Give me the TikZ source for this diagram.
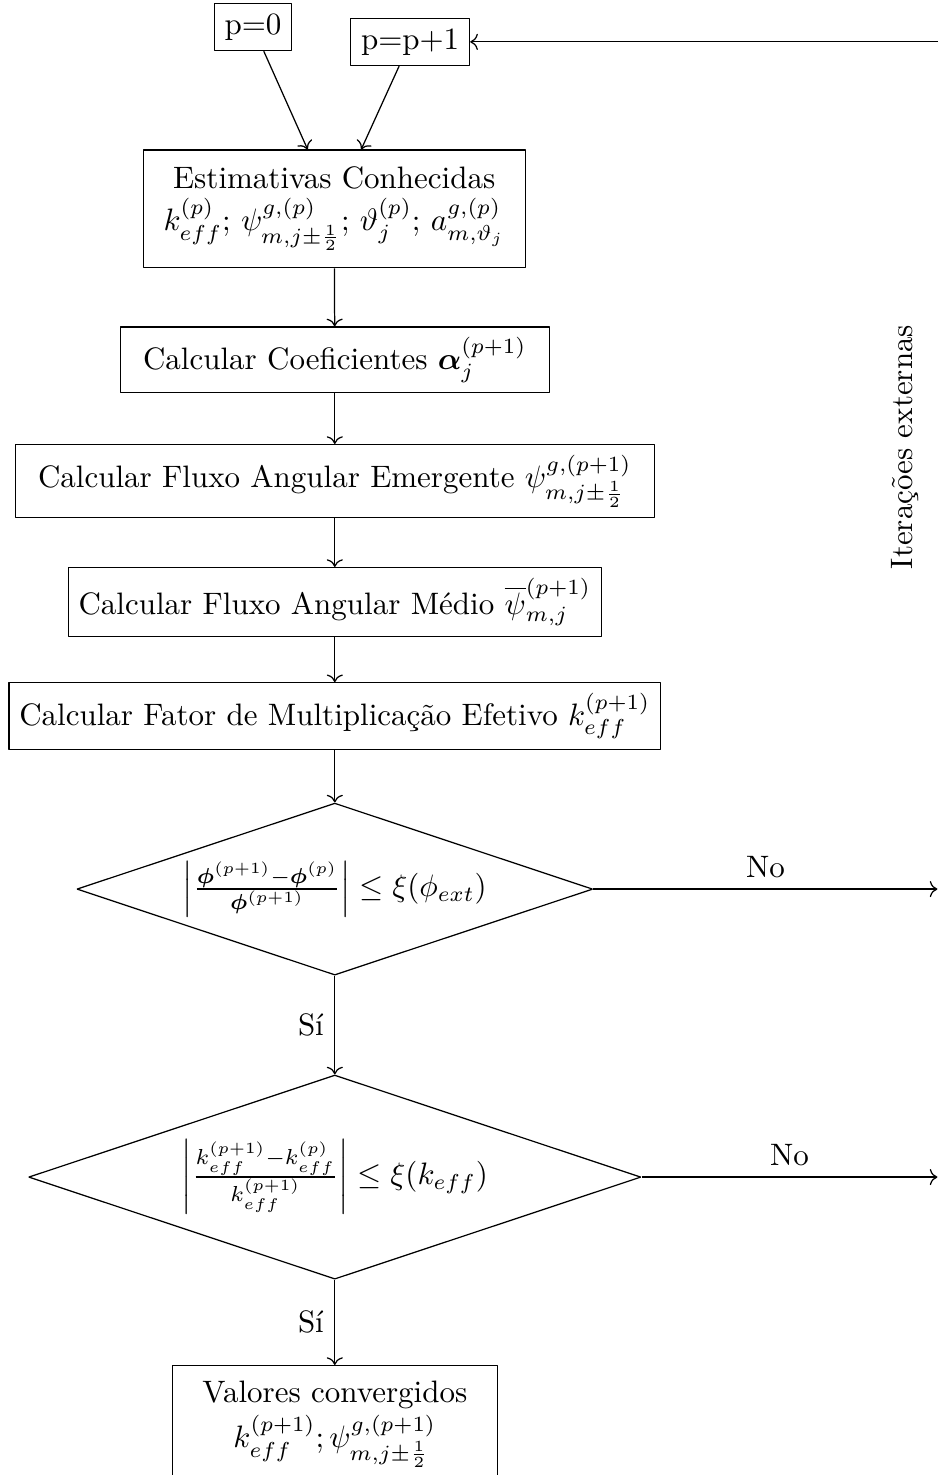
\documentclass[tikz,border=0pt]{standalone}
\usepackage{amsmath}
\usepackage{amssymb}
\usepackage{tikz}
\usetikzlibrary{arrows.meta, shapes, positioning}
\tikzset{processnode/.style={rectangle, draw=black, align=center},
wideprocessnode/.style={rectangle, draw=black, align=center, inner xsep=7.3pt},
decisionnode/.style={diamond, aspect=3, draw=black, align=center}}

\begin{document}
\begin{tikzpicture}[
                line join=bevel,
                flowarrow/.style={->}
            ]
                \useasboundingbox (0pt, 0pt) rectangle (302.6pt, -475.8pt);

                % Nodes
                \node[processnode] (start) at (81.6pt, -8.7pt) {p=0};
                \node[processnode] (next) at (132.3pt, -13.5pt) {p=p+1};
                \node[processnode, minimum width=123.2pt, minimum height=38pt] (known) at (107.8pt, -67.4pt) {Estimativas Conhecidas\\[1.5pt] $k_{eff}^{(p)};\,\psi^{g,(p)}_{m,j\pm\frac{1}{2}};\,\vartheta^{(p)}_j;\,a^{g,(p)}_{m,\vartheta_j}$};
                \node[wideprocessnode] (coef) at (108pt, -116.1pt) {Calcular Coeficientes $\boldsymbol{\alpha}_j^{(p+1)}$};
                \node[wideprocessnode] (emerg) at (108pt, -155.2pt) {Calcular Fluxo Angular Emergente $\psi^{g,(p+1)}_{m,j\pm\frac{1}{2}}$};
                \node[processnode] (mean) at (108pt, -194.2pt) {Calcular Fluxo Angular Médio $\overline{\psi}_{m,j}^{(p+1)}$};
                \node[processnode] (factor) at (108pt, -231pt) {Calcular Fator de Multiplicação Efetivo $k_{eff}^{(p+1)}$};
                \node[decisionnode, inner sep=1.8pt] (testflux) at (108pt, -286.8pt) {$\left|\frac{\boldsymbol{\phi}^{(p+1)}-\boldsymbol{\phi}^{(p)}}{\boldsymbol{\phi}^{(p+1)}}\right| \leq \xi(\phi_{ext})$};
                \node[decisionnode] (testk) at (108pt, -379.7pt) {$\left|\frac{k_{eff}^{(p+1)}-k_{eff}^{(p)}}{k_{eff}^{(p+1)}}\right| \leq \xi(k_{eff})$};
                \node[processnode, minimum width=104.8pt, minimum height=38pt] (converged) at (108pt, -459.5pt) {Valores convergidos\\[1pt] $k_{eff}^{(p+1)};\psi^{g,(p+1)}_{m,j\pm\frac{1}{2}}$};
                \node[rotate=90] (outer) at (291.9pt, -144.2pt) {Iterações externas};

                % Loose ends on the right
                \coordinate (backin) at (302.6pt, -13.5pt);
                \coordinate (noflux) at (302.4pt, -286.8pt);
                \coordinate (nok) at (302.4pt, -379.7pt);

                % Arrows
                \draw[flowarrow] (start) -- (known);
                \draw[flowarrow] (next) -- (known);
                \draw[flowarrow] (backin) -- (next);
                \draw[flowarrow] (known) -- (coef);
                \draw[flowarrow] (coef) -- (emerg);
                \draw[flowarrow] (emerg) -- (mean);
                \draw[flowarrow] (mean) -- (factor);
                \draw[flowarrow] (factor) -- (testflux);
                \draw[flowarrow] (testflux) -- node[left] {Sí} (testk);
                \draw[flowarrow] (testk) -- node[left] {Sí} (converged);
                \draw[flowarrow] (testflux) -- node[above] {No} (noflux);
                \draw[flowarrow] (testk) -- node[above] {No} (nok);
            \end{tikzpicture}
\end{document}
